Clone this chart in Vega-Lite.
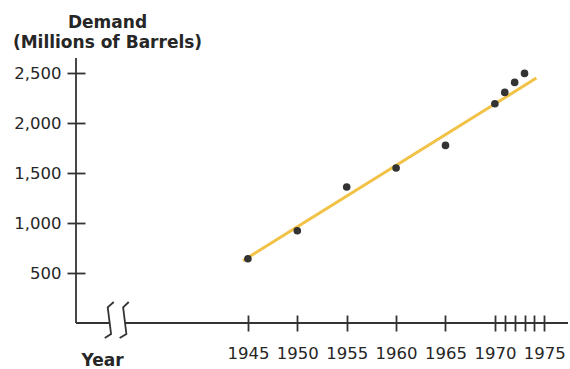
{
  "$schema": "https://vega.github.io/schema/vega-lite/v6.json",
  "width": 492,
  "height": 265,
  "autosize": {"type": "none"},
  "padding": {"left": 76, "top": 58, "right": 2, "bottom": 46},
  "background": "white",
  "config": {"view": {"stroke": null}},
  "datasets": {
    "points": [
      {"year": 1945, "value": 643},
      {"year": 1950, "value": 923},
      {"year": 1955, "value": 1360},
      {"year": 1960, "value": 1550},
      {"year": 1965, "value": 1776},
      {"year": 1970, "value": 2193},
      {"year": 1971, "value": 2306},
      {"year": 1972, "value": 2406},
      {"year": 1973, "value": 2496}
    ],
    "fit": [
      {"year": 1944.5, "value": 623},
      {"year": 1974.2, "value": 2450}
    ],
    "axisline": [
      {"year": 1927.6, "year2": 1931.0, "value": 0},
      {"year": 1932.56, "year2": 1977.4, "value": 0}
    ],
    "yaxisline": [
      {"year": 1927.6, "value": 0, "value2": 2650}
    ],
    "breaks": [
      {"g": "a", "i": 1, "year": 1931.42, "value": 210},
      {"g": "a", "i": 2, "year": 1930.81, "value": 156},
      {"g": "a", "i": 3, "year": 1931.15, "value": -110},
      {"g": "a", "i": 4, "year": 1930.51, "value": -150},
      {"g": "b", "i": 1, "year": 1932.94, "value": 210},
      {"g": "b", "i": 2, "year": 1932.37, "value": 156},
      {"g": "b", "i": 3, "year": 1932.70, "value": -110},
      {"g": "b", "i": 4, "year": 1932.02, "value": -150}
    ]
  },
  "layer": [
    {
      "data": {"name": "fit"},
      "mark": {"type": "line", "color": "#f1c246", "strokeWidth": 3},
      "encoding": {
        "x": {
          "field": "year", "type": "quantitative",
          "scale": {"domain": [1927.6, 1977.4], "nice": false, "zero": false},
          "axis": {
            "orient": "bottom",
            "domain": false,
            "grid": false,
            "offset": -8,
            "values": [1945, 1950, 1955, 1960, 1965, 1970, 1971, 1972, 1973, 1974, 1975],
            "format": "d",
            "labelExpr": "datum.value % 5 == 0 ? datum.label : ''",
            "labelOverlap": false,
            "labelFlush": false,
            "tickSize": 16,
            "tickWidth": 1.8,
            "tickColor": "#333333",
            "labelPadding": 14,
            "labelFont": "DejaVu Sans",
            "labelFontSize": 16.5,
            "labelColor": "#262626",
            "title": "Year",
            "titleX": 26,
            "titleY": 45,
            "titleAlign": "center",
            "titleBaseline": "middle",
            "titleAnchor": null,
            "titleFont": "DejaVu Sans",
            "titleFontSize": 17,
            "titleFontWeight": "bold",
            "titleColor": "#262626"
          }
        },
        "y": {
          "field": "value", "type": "quantitative",
          "scale": {"domain": [0, 2650], "nice": false, "zero": true},
          "axis": {
            "orient": "left",
            "grid": false,
            "offset": -9,
            "values": [500, 1000, 1500, 2000, 2500],
            "format": ",d",
            "domain": false,
            "tickSize": 18,
            "tickWidth": 1.8,
            "tickColor": "#333333",
            "labelPadding": 6,
            "labelFont": "DejaVu Sans",
            "labelFontSize": 16.5,
            "labelColor": "#262626",
            "labelBaseline": "middle",
            "title": ["Demand", "(Millions of Barrels)"],
            "titleAngle": 0,
            "titleX": 22,
            "titleY": -44,
            "titleAlign": "center",
            "titleBaseline": "top",
            "titleAnchor": null,
            "titleLineHeight": 20,
            "titleFont": "DejaVu Sans",
            "titleFontSize": 17,
            "titleFontWeight": "bold",
            "titleColor": "#262626"
          }
        }
      }
    },
    {
      "data": {"name": "points"},
      "mark": {"type": "circle", "color": "#333333", "opacity": 1, "size": 58},
      "encoding": {
        "x": {"field": "year", "type": "quantitative"},
        "y": {"field": "value", "type": "quantitative"}
      }
    },
    {
      "data": {"name": "axisline"},
      "mark": {"type": "rule", "color": "#333333", "strokeWidth": 1.8},
      "encoding": {
        "x": {"field": "year", "type": "quantitative"},
        "x2": {"field": "year2"},
        "y": {"field": "value", "type": "quantitative"}
      }
    },
    {
      "data": {"name": "yaxisline"},
      "mark": {"type": "rule", "color": "#333333", "strokeWidth": 1.8},
      "encoding": {
        "x": {"field": "year", "type": "quantitative"},
        "y": {"field": "value", "type": "quantitative"},
        "y2": {"field": "value2"}
      }
    },
    {
      "data": {"name": "breaks"},
      "mark": {"type": "line", "color": "#333333", "strokeWidth": 1.8},
      "encoding": {
        "x": {"field": "year", "type": "quantitative"},
        "y": {"field": "value", "type": "quantitative"},
        "detail": {"field": "g", "type": "nominal"},
        "order": {"field": "i", "type": "quantitative"}
      }
    }
  ]
}
